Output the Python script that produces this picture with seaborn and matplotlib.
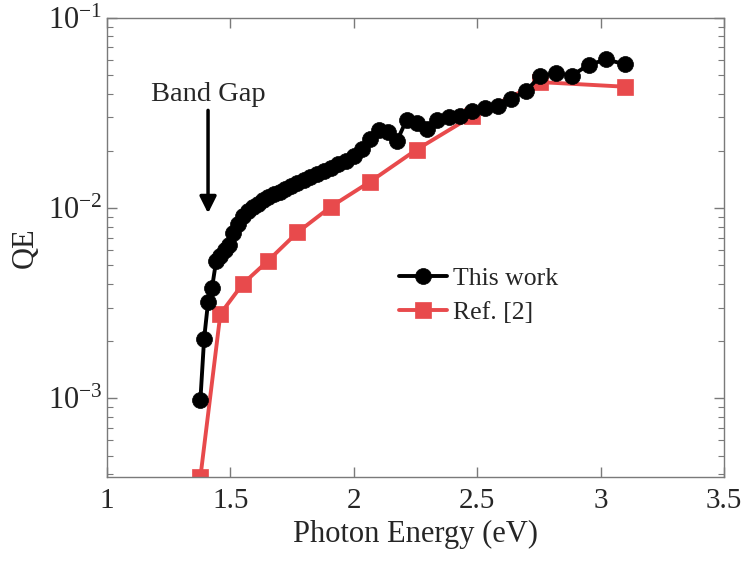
import numpy as np
import pandas as pd
import matplotlib
matplotlib.use("Agg")
import matplotlib.pyplot as plt
import seaborn as sns
from matplotlib.ticker import LogLocator, LogFormatterMathtext, FixedLocator

# ---- data ----
this_work_E = [1.378, 1.393, 1.409, 1.425, 1.442, 1.459, 1.476, 1.494, 1.512, 1.531,
               1.550, 1.570, 1.590, 1.610, 1.632, 1.653, 1.676, 1.699, 1.722, 1.746,
               1.771, 1.797, 1.824, 1.851, 1.879, 1.908, 1.937, 1.968, 2.000, 2.033,
               2.067, 2.101, 2.138, 2.175, 2.214, 2.254, 2.296, 2.339, 2.385, 2.431,
               2.480, 2.531, 2.583, 2.638, 2.696, 2.756, 2.818, 2.884, 2.952, 3.024,
               3.100]
this_work_QE = [9.8e-4, 2.05e-3, 3.2e-3, 3.8e-3, 5.3e-3, 5.6e-3, 6.0e-3, 6.4e-3, 7.4e-3, 8.3e-3,
                9.1e-3, 9.7e-3, 1.01e-2, 1.05e-2, 1.10e-2, 1.14e-2, 1.18e-2, 1.22e-2, 1.26e-2, 1.31e-2,
                1.36e-2, 1.40e-2, 1.45e-2, 1.51e-2, 1.57e-2, 1.63e-2, 1.70e-2, 1.78e-2, 1.88e-2, 2.05e-2,
                2.30e-2, 2.58e-2, 2.50e-2, 2.26e-2, 2.92e-2, 2.80e-2, 2.62e-2, 2.92e-2, 3.03e-2, 3.06e-2,
                3.25e-2, 3.36e-2, 3.46e-2, 3.75e-2, 4.12e-2, 4.95e-2, 5.12e-2, 4.98e-2, 5.68e-2, 6.05e-2,
                5.70e-2]

ref_E = [1.378, 1.459, 1.550, 1.653, 1.771, 1.908, 2.067, 2.254, 2.480, 2.756, 3.100]
ref_QE = [3.85e-4, 2.78e-3, 4.0e-3, 5.3e-3, 7.45e-3, 1.02e-2, 1.38e-2, 2.03e-2, 3.05e-2, 4.6e-2, 4.35e-2]

series_labels = ["This work", "Ref. [2]"]
x_ticks = [1, 1.5, 2, 2.5, 3, 3.5]
x_label = "Photon Energy (eV)"
y_label = "QE"
annotation_text = "Band Gap"
band_gap_E = 1.409

# ---- style ----
sns.set_theme(style="ticks")
plt.rcParams["font.family"] = ["Liberation Serif", "DejaVu Serif"]
plt.rcParams["mathtext.default"] = "regular"
plt.rcParams["mathtext.fontset"] = "custom"
plt.rcParams["mathtext.rm"] = "Liberation Serif"

fig = plt.figure(figsize=(7.44, 5.62), dpi=100)
ax = fig.add_axes([0.144, 0.151, 0.829, 0.817])

df_a = pd.DataFrame({"E": this_work_E, "QE": this_work_QE})
df_b = pd.DataFrame({"E": ref_E, "QE": ref_QE})

red = "#E84A4C"
sns.lineplot(data=df_a, x="E", y="QE", ax=ax, color="black", marker="o",
             markersize=11.5, markeredgewidth=0.5, markeredgecolor="black",
             linewidth=2.8, label=series_labels[0], zorder=3)
sns.lineplot(data=df_b, x="E", y="QE", ax=ax, color=red, marker="s",
             markersize=11, markeredgewidth=0.5, markeredgecolor=red,
             linewidth=2.8, label=series_labels[1], zorder=2)

ax.set_yscale("log")
ax.set_xlim(1, 3.5)
ax.set_ylim(3.85e-4, 0.1)
ax.xaxis.set_major_locator(FixedLocator(x_ticks))
ax.set_xticklabels([f"{t:g}" for t in x_ticks])
ax.yaxis.set_major_locator(LogLocator(base=10, numticks=10))
ax.yaxis.set_minor_locator(LogLocator(base=10, subs=np.arange(2, 10), numticks=20))
ax.yaxis.set_major_formatter(LogFormatterMathtext())

spine_col = "#7a7a7a"
for s in ax.spines.values():
    s.set_visible(True)
    s.set_color(spine_col)
    s.set_linewidth(1.0)
ax.tick_params(which="both", direction="in", top=True, right=True, color=spine_col,
               labelcolor="#262626")
ax.tick_params(axis="x", labelsize=21, pad=8)
ax.tick_params(axis="y", labelsize=22)
ax.tick_params(which="major", length=7, width=1)
ax.tick_params(which="minor", length=4, width=0.8)
ax.set_xlabel(x_label, fontsize=22, color="#262626", labelpad=4)
ax.set_ylabel(y_label, fontsize=22, color="#262626", labelpad=6)

leg = ax.legend(loc="upper left", bbox_to_anchor=(0.456, 0.481), frameon=False,
                fontsize=18.5, handlelength=1.9, handletextpad=0.2, labelspacing=0.45,
                borderaxespad=0)

ax.annotate(annotation_text, xy=(band_gap_E, 9.4e-3), xytext=(band_gap_E, 3.4e-2),
            ha="center", va="bottom", fontsize=20.5,
            arrowprops=dict(arrowstyle="-|>", lw=2.5, color="black", mutation_scale=25,
                            shrinkA=0, shrinkB=0))

fig.savefig("out.png", dpi=100)
